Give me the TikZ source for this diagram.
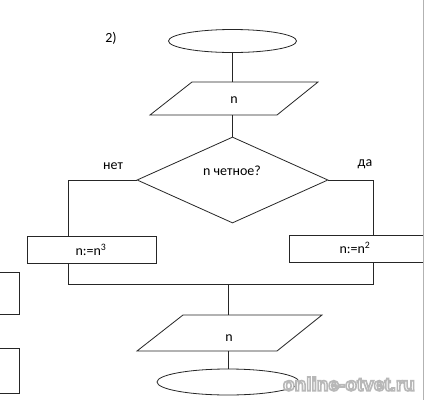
\documentclass[tikz,border=0pt]{standalone}
\usepackage{fontspec}
\setmainfont{Carlito}
\newfontfamily\wmfont{Liberation Sans}
\usetikzlibrary{shapes.geometric}
\begin{document}
\begin{tikzpicture}[x=1pt,y=-1pt,
  ln/.style={draw=black!85,line width=0.8pt},
  lbl/.style={font=\fontsize{14}{16}\selectfont,inner sep=0pt},
  term/.style={ellipse,ln,inner sep=0pt},
  dec/.style={diamond,ln,inner sep=0pt,minimum width=191pt,minimum height=86pt},
  proc/.style={rectangle,ln,inner sep=0pt,minimum width=129pt,minimum height=27pt}]
\useasboundingbox (0,0) rectangle (424,400);
\fill[white] (0,0) rectangle (424,400);
% page border
\draw[gray!60,line width=0.8pt] (423,0) -- (423,400);
% label
\node[lbl] (num) at (111,38) {2)};
% start terminator
\node[term,minimum width=128pt,minimum height=23pt] (start) at (232.5,41) {};
% input parallelogram
\draw[ln] (192,82) -- (318,82) -- (277,115) -- (150,115) -- cycle;
\coordinate (in1t) at (232.5,82);
\coordinate (in1b) at (232.5,115);
\node[lbl] (in1) at (234,100) {n};
% decision
\node[dec] (cond) at (232.5,180) {};
\node[lbl] (condt) at (232,171) {n четное?};
\node[lbl] (no) at (113,166) {нет};
\node[lbl] (yes) at (365,164) {да};
% process boxes
\node[proc] (cube) at (91.5,249.5) {};
\node[lbl] (cubet) at (91,250) {n:=n\textsuperscript{3}};
\draw[ln] (423,235) -- (289,235) -- (289,262) -- (423,262);
\node[lbl] (sqt) at (355,248) {n:=n\textsuperscript{2}};
\coordinate (lt) at (68,236);
\coordinate (lb) at (68,263);
\coordinate (rt) at (373,235);
\coordinate (rb) at (373,262);
\coordinate (jl) at (68,284);
\coordinate (jr) at (373,284);
\coordinate (jm) at (228,284);
% output parallelogram
\draw[ln] (183,315) -- (322,315) -- (277,351) -- (137,351) -- cycle;
\coordinate (out1t) at (228,315);
\coordinate (out1b) at (228,351);
\node[lbl] (outt) at (229,338) {n};
% end terminator
\node[term,minimum width=142pt,minimum height=26pt] (stop) at (228,382) {};
% connectors
\draw[ln] (start.south) -- (in1t);
\draw[ln] (in1b) -- (cond.north);
\draw[ln] (cond.west) -| (lt);
\draw[ln] (cond.east) -| (rt);
\draw[ln] (lb) -- (jl) -- (jr) -- (rb);
\draw[ln] (jm) -- (out1t);
\draw[ln] (out1b) -- (stop.north);
% partial boxes at left edge
\draw[ln] (-2,272) -- (19,272) -- (19,314) -- (-2,314);
\draw[ln] (-2,348) -- (19,348) -- (19,393) -- (-2,393);
% watermark: white text with grey outline
\node[font=\wmfont\bfseries\fontsize{19}{21}\selectfont,text=white,inner sep=0pt] (wm) at (349,384)
  {\special{pdf:literal 2 Tr 1.6 w 0.72 G}online-otvet.ru\special{pdf:literal 0 Tr}};
\end{tikzpicture}
\end{document}
